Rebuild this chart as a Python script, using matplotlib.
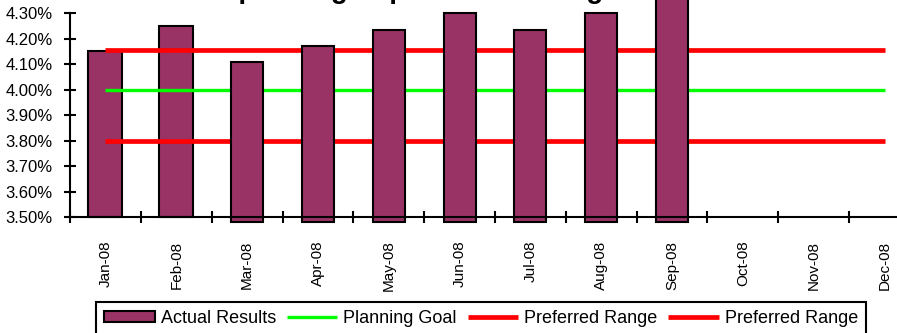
import matplotlib
matplotlib.use("Agg")
import matplotlib.pyplot as plt

plt.rcParams['font.family'] = ['Liberation Sans', 'DejaVu Sans']

months = ["Jan-08", "Feb-08", "Mar-08", "Apr-08", "May-08", "Jun-08",
          "Jul-08", "Aug-08", "Sep-08", "Oct-08", "Nov-08", "Dec-08"]
actual_results = [4.15, 4.25, 4.11, 4.17, 4.235, 4.30, 4.235, 4.30, 4.38]
planning_goal = [4.00, 4.00, 4.00, 4.00, 4.00, 4.00, 4.00, 4.00, 4.00, 4.00, 4.00, 4.00]
preferred_high = [4.155, 4.155, 4.155, 4.155, 4.155, 4.155, 4.155, 4.155, 4.155, 4.155, 4.155, 4.155]
preferred_low = [3.80, 3.80, 3.80, 3.80, 3.80, 3.80, 3.80, 3.80, 3.80, 3.80, 3.80, 3.80]
y_ticks = [3.50, 3.60, 3.70, 3.80, 3.90, 4.00, 4.10, 4.20, 4.30]

W, H = 897, 333
fig = plt.figure(figsize=(W / 100, H / 100), dpi=100)
ax = fig.add_axes([70 / W, 1 - 217 / H, (920 - 70) / W, (217 - 13.3) / H])

y_min, y_max = 3.50, 4.30
ax.set_ylim(y_min, y_max)
ax.set_xlim(-0.5, len(months) - 0.5)

bar_color = "#993366"
x = list(range(len(months)))
n = len(actual_results)

# The first two months sit behind the reference lines; the later ones
# are drawn on top of them and run slightly past the baseline.
split = 2
back = ax.bar(x[:split], [v - y_min for v in actual_results[:split]], bottom=y_min,
              width=0.48, color=bar_color, edgecolor="black", linewidth=1.5,
              zorder=2, clip_on=False)
front_bottom = y_min - 0.02
ax.bar(x[split:n], [v - front_bottom for v in actual_results[split:]], bottom=front_bottom,
       width=0.45, color=bar_color, edgecolor="black", linewidth=1.5,
       zorder=4, clip_on=False)

goal_line, = ax.plot(x, planning_goal, color="#00FF00", lw=2.4,
                     solid_capstyle="butt", zorder=3)
high_line, = ax.plot(x, preferred_high, color="#FF0000", lw=3.4,
                     solid_capstyle="butt", zorder=3)
low_line, = ax.plot(x, preferred_low, color="#FF0000", lw=3.4,
                    solid_capstyle="butt", zorder=3)

# Axes styling
for side in ("top", "right"):
    ax.spines[side].set_visible(False)
for side in ("left", "bottom"):
    ax.spines[side].set_linewidth(1.5)
    ax.spines[side].set_zorder(5)

ax.set_yticks(y_ticks)
ax.set_yticklabels([f"{v:.2f}%" for v in y_ticks])
ax.tick_params(axis="y", direction="inout", length=8, width=1.5, pad=8.3,
               labelsize=12)

ax.set_xticks([i - 0.5 for i in range(len(months) + 1)])
ax.set_xticklabels([])
ax.tick_params(axis="x", which="major", direction="inout", length=8, width=1.5)
ax.set_xticks(x, minor=True)
ax.set_xticklabels(months, minor=True, rotation=90)
ax.tick_params(axis="x", which="minor", length=0, pad=17, labelsize=11)

fig.text(0.52, 1 + 1.5 / H, "Operating Expense to Average Assets",
         ha="center", va="baseline", fontsize=20, fontweight="bold")

leg = fig.legend([back, goal_line, high_line, low_line],
                 ["Actual Results", "Planning Goal", "Preferred Range", "Preferred Range"],
                 ncol=4, loc="upper left", bbox_to_anchor=(96 / W, 1 - 302 / H),
                 frameon=True, fancybox=False, edgecolor="black", framealpha=1,
                 borderpad=0.45, handlelength=2.8, handleheight=0.55,
                 handletextpad=0.33, columnspacing=0.6, borderaxespad=0,
                 prop={"family": "Liberation Sans", "size": 13})
leg.get_frame().set_linewidth(1.5)

fig.savefig("out.png", dpi=100)
